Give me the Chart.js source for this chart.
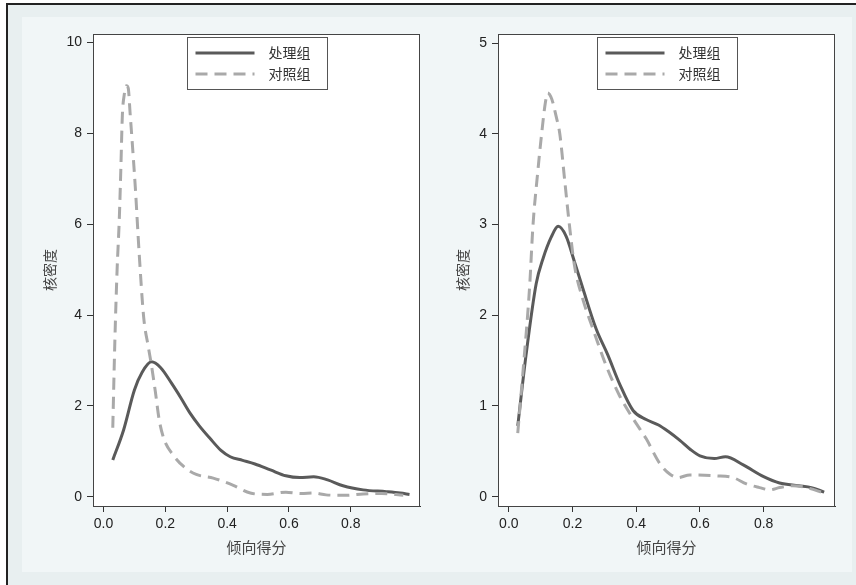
<!DOCTYPE html>
<html lang="zh-CN">
<head>
<meta charset="utf-8">
<title>倾向得分核密度</title>
<script src="https://cdn.jsdelivr.net/npm/chart.js@4.4.1/dist/chart.umd.min.js"></script>
<style>
  html, body { margin: 0; padding: 0; background: #fff; }
  body { width: 856px; height: 585px; position: relative; overflow: hidden; }
  #frame {
    position: absolute; left: 6px; top: 3px; right: 0; bottom: 0;
    border-left: 2px solid #222; border-top: 2px solid #222;
    background: #e8eff0;
  }
  #inner { position: absolute; left: 22px; top: 17px; width: 830px; height: 555px; background: #f1f6f7; }
  canvas { position: absolute; top: 17px; }
  #chart-left { left: 22px; }
  #chart-right { left: 436px; }
</style>
</head>
<body>
<div id="frame"></div>
<div id="inner"></div>
<canvas id="chart-left" width="410" height="555"></canvas>
<canvas id="chart-right" width="410" height="555"></canvas>
<script>
const seriesNames = ["处理组", "对照组"];
const xTitle = "倾向得分";
const yTitle = "核密度";
const xTicks = [0, 0.2, 0.4, 0.6, 0.8];
const yTicksLeft = [0, 2, 4, 6, 8, 10];
const yTicksRight = [0, 1, 2, 3, 4, 5];

// 左图 - 处理组
const treatLeftX = [0.03, 0.065, 0.10, 0.125, 0.155, 0.185, 0.22, 0.25, 0.28, 0.31, 0.345, 0.38, 0.41, 0.45, 0.49, 0.54, 0.59, 0.635, 0.68, 0.725, 0.775, 0.84, 0.915, 0.96, 0.99];
const treatLeftY = [0.81, 1.47, 2.35, 2.74, 2.97, 2.84, 2.50, 2.18, 1.84, 1.56, 1.28, 1.02, 0.88, 0.80, 0.72, 0.59, 0.46, 0.42, 0.44, 0.37, 0.24, 0.15, 0.11, 0.08, 0.05];

// 左图 - 对照组
const controlLeftX = [0.03, 0.037, 0.044, 0.051, 0.056, 0.061, 0.067, 0.074, 0.08, 0.086, 0.094, 0.103, 0.115, 0.13, 0.145, 0.155, 0.168, 0.18, 0.195, 0.225, 0.26, 0.30, 0.355, 0.42, 0.475, 0.53, 0.59, 0.64, 0.68, 0.72, 0.78, 0.84, 0.90, 0.97];
const controlLeftY = [1.52, 3.5, 5.0, 6.1, 7.2, 8.4, 8.85, 9.05, 9.0, 8.45, 7.7, 6.8, 5.4, 3.95, 3.3, 2.9, 2.3, 1.7, 1.28, 0.92, 0.66, 0.49, 0.41, 0.25, 0.08, 0.05, 0.10, 0.07, 0.08, 0.04, 0.03, 0.06, 0.07, 0.03];

// 右图 - 处理组
const treatRightX = [0.028, 0.054, 0.086, 0.107, 0.133, 0.155, 0.18, 0.206, 0.232, 0.274, 0.311, 0.348, 0.39, 0.431, 0.47, 0.50, 0.537, 0.57, 0.60, 0.645, 0.68, 0.736, 0.80, 0.85, 0.91, 0.95, 0.99];
const treatRightY = [0.78, 1.56, 2.35, 2.62, 2.86, 2.98, 2.87, 2.59, 2.30, 1.85, 1.56, 1.24, 0.95, 0.85, 0.79, 0.72, 0.62, 0.52, 0.45, 0.42, 0.44, 0.35, 0.22, 0.15, 0.12, 0.10, 0.05];

// 右图 - 对照组
const controlRightX = [0.028, 0.044, 0.065, 0.076, 0.09, 0.103, 0.115, 0.122, 0.135, 0.148, 0.16, 0.175, 0.19, 0.206, 0.232, 0.264, 0.306, 0.348, 0.39, 0.431, 0.473, 0.505, 0.531, 0.568, 0.65, 0.704, 0.746, 0.787, 0.82, 0.85, 0.892, 0.934, 0.99];
const controlRightY = [0.70, 1.36, 2.3, 3.0, 3.55, 4.0, 4.35, 4.45, 4.38, 4.2, 4.0, 3.5, 3.0, 2.55, 2.18, 1.85, 1.44, 1.11, 0.86, 0.64, 0.37, 0.25, 0.21, 0.24, 0.23, 0.21, 0.14, 0.10, 0.075, 0.10, 0.12, 0.10, 0.04];

const fontFamily = '"Liberation Sans", Arial, "Noto Sans CJK SC", sans-serif';
const solidColor = "#5a5a5a";
const dashedColor = "#a9a9a9";
const dashPattern = [12, 7];

function toPoints(xs, ys) {
  return xs.map((x, i) => ({ x, y: ys[i] }));
}

// 白色绘图区 + 外框 + 图例框
const panelPlugin = {
  id: "panelFrame",
  beforeDraw(chart) {
    const { ctx, chartArea: a } = chart;
    ctx.save();
    ctx.fillStyle = "#ffffff";
    ctx.fillRect(a.left, a.top, a.right - a.left, a.bottom - a.top);
    ctx.restore();
  },
  beforeDatasetsDraw(chart) {
    const { ctx, chartArea: a } = chart;
    ctx.save();
    ctx.strokeStyle = "#444";
    ctx.lineWidth = 1;
    ctx.strokeRect(a.left + 0.5, a.top + 0.5, a.right - a.left - 1, a.bottom - a.top);
    ctx.restore();
  },
  afterDraw(chart) {
    const { ctx, chartArea: a } = chart;
    const w = 140, h = 52;
    const left = Math.round((a.left + a.right) / 2 - w / 2) + 0.5;
    const top = a.top + 3.5;
    ctx.save();
    ctx.fillStyle = "#ffffff";
    ctx.fillRect(left, top, w, h);
    ctx.strokeStyle = "#555";
    ctx.lineWidth = 1;
    ctx.strokeRect(left, top, w, h);
    const rows = [15.5, 36.5];
    chart.data.datasets.forEach((ds, i) => {
      const y = top + rows[i];
      ctx.strokeStyle = ds.borderColor;
      ctx.lineWidth = ds.borderWidth;
      ctx.setLineDash(ds.borderDash || []);
      ctx.beginPath();
      ctx.moveTo(left + 8, y);
      ctx.lineTo(left + 67, y);
      ctx.stroke();
      ctx.setLineDash([]);
      ctx.fillStyle = "#333";
      ctx.font = `14px ${fontFamily}`;
      ctx.textBaseline = "middle";
      ctx.textAlign = "left";
      ctx.fillText(ds.label, left + 81, y + 1);
    });
    ctx.restore();
  },
};

function buildPanel(canvasId, cfg) {
  const canvas = document.getElementById(canvasId);
  return new Chart(canvas, {
    type: "line",
    data: {
      datasets: [
        {
          label: seriesNames[0],
          data: toPoints(cfg.treatX, cfg.treatY),
          borderColor: solidColor,
          borderWidth: 3,
          pointRadius: 0,
          cubicInterpolationMode: "monotone",
          order: 2,
        },
        {
          label: seriesNames[1],
          data: toPoints(cfg.controlX, cfg.controlY),
          borderColor: dashedColor,
          borderWidth: 3,
          borderDash: dashPattern,
          borderCapStyle: "butt",
          pointRadius: 0,
          cubicInterpolationMode: "monotone",
          order: 1,
        },
      ],
    },
    options: {
      responsive: false,
      animation: false,
      layout: { padding: { top: 17, right: cfg.padRight, left: 0, bottom: 0 } },
      plugins: { legend: { display: false }, tooltip: { enabled: false } },
      scales: {
        x: {
          type: "linear",
          min: -0.034,
          max: 1.024,
          afterBuildTicks: (scale) => { scale.ticks = xTicks.map((value) => ({ value })); },
          afterFit: (scale) => { scale.height = 66; },
          grid: { drawOnChartArea: false, drawTicks: true, tickLength: 6, tickColor: "#333" },
          border: { display: true, color: "#333", width: 1 },
          ticks: {
            autoSkip: false,
            maxRotation: 0,
            padding: 4,
            color: "#222",
            font: { family: fontFamily, size: 14 },
            callback: (value) => Number(value).toFixed(1),
          },
          title: {
            display: true,
            text: xTitle,
            color: "#444",
            font: { family: fontFamily, size: 15 },
            padding: { top: 0, bottom: 14.5 },
          },
        },
        y: {
          min: cfg.yMin,
          max: cfg.yMax,
          afterBuildTicks: (scale) => { scale.ticks = cfg.yTicks.map((value) => ({ value })); },
          afterFit: (scale) => { scale.width = cfg.yWidth; },
          grid: { drawOnChartArea: false, drawTicks: true, tickLength: 6, tickColor: "#333" },
          border: { display: true, color: "#333", width: 1 },
          ticks: {
            padding: 5,
            color: "#222",
            font: { family: fontFamily, size: 14 },
            callback: (value) => String(value),
          },
          title: {
            display: true,
            text: yTitle,
            color: "#444",
            font: { family: fontFamily, size: 14 },
            padding: { top: cfg.yTitlePad, bottom: 0 },
          },
        },
      },
    },
    plugins: [panelPlugin],
  });
}

buildPanel("chart-left", {
  treatX: treatLeftX, treatY: treatLeftY,
  controlX: controlLeftX, controlY: controlLeftY,
  yTicks: yTicksLeft, yMin: -0.205, yMax: 10.19,
  yWidth: 71, padRight: 12, yTitlePad: 20.6,
});

buildPanel("chart-right", {
  treatX: treatRightX, treatY: treatRightY,
  controlX: controlRightX, controlY: controlRightY,
  yTicks: yTicksRight, yMin: -0.103, yMax: 5.10,
  yWidth: 62, padRight: 11, yTitlePad: 19.3,
});
</script>
</body>
</html>
